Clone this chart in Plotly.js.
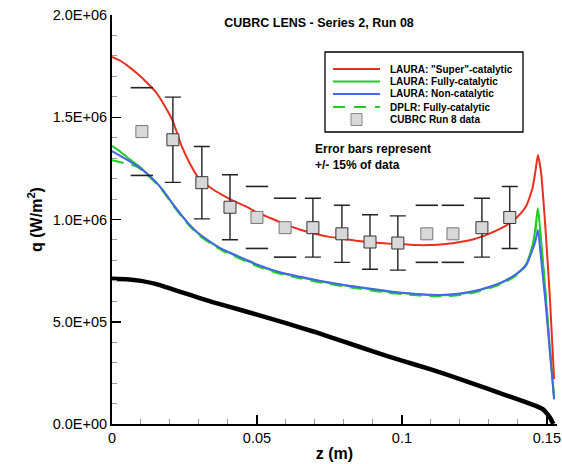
<!DOCTYPE html>
<html>
<head>
<meta charset="utf-8">
<script src="https://cdn.plot.ly/plotly-3.0.1.min.js"></script>
<style>html,body{margin:0;padding:0;background:#fff;}#chart{width:562px;height:464px;}</style>
</head>
<body>
<div id="chart"></div>
<script>
// ---- Simulation curves (z in m, q in W/m^2) ----
const zSim = [0,0.003,0.006,0.009,0.012,0.015,0.018,0.021,0.024,0.027,0.030,0.034,0.038,0.042,0.046,0.050,0.055,0.060,0.065,0.070,0.075,0.080,0.085,0.090,0.095,0.100,0.105,0.110,0.115,0.120,0.125,0.130,0.134,0.138,0.141,0.143,0.145,0.146,0.1469,0.148,0.1495,0.151,0.1525];
const qSuper = [1.795e6,1.775e6,1.745e6,1.71e6,1.67e6,1.625e6,1.56e6,1.48e6,1.36e6,1.27e6,1.20e6,1.155e6,1.12e6,1.09e6,1.065e6,1.035e6,1.005e6,9.75e5,9.5e5,9.3e5,9.15e5,9.05e5,8.95e5,8.88e5,8.83e5,8.8e5,8.75e5,8.75e5,8.8e5,8.9e5,9.05e5,9.3e5,9.55e5,9.9e5,1.03e6,1.07e6,1.15e6,1.23e6,1.315e6,1.23e6,9.6e5,6.3e5,2.2e5];
const qFully = [1.36e6,1.33e6,1.295e6,1.265e6,1.225e6,1.185e6,1.135e6,1.075e6,1.02e6,9.7e5,9.28e5,8.88e5,8.53e5,8.27e5,8.02e5,7.77e5,7.52e5,7.32e5,7.17e5,7.02e5,6.9e5,6.78e5,6.67e5,6.57e5,6.47e5,6.4e5,6.34e5,6.3e5,6.3e5,6.36e5,6.48e5,6.68e5,6.88e5,7.18e5,7.5e5,7.85e5,8.7e5,9.5e5,1.056e6,9.0e5,6.5e5,3.8e5,1.3e5];
const qNon = [1.335e6,1.31e6,1.285e6,1.26e6,1.225e6,1.185e6,1.135e6,1.075e6,1.02e6,9.7e5,9.3e5,8.9e5,8.55e5,8.3e5,8.05e5,7.8e5,7.55e5,7.35e5,7.2e5,7.05e5,6.92e5,6.8e5,6.7e5,6.6e5,6.5e5,6.42e5,6.36e5,6.32e5,6.32e5,6.38e5,6.5e5,6.7e5,6.9e5,7.2e5,7.5e5,7.8e5,8.5e5,8.9e5,9.5e5,8.1e5,6.0e5,3.6e5,1.2e5];
const qDplr = [1.29e6,1.28e6,1.27e6,1.255e6,1.22e6,1.18e6,1.13e6,1.07e6,1.015e6,9.65e5,9.23e5,8.83e5,8.48e5,8.22e5,7.97e5,7.72e5,7.47e5,7.27e5,7.12e5,6.97e5,6.85e5,6.73e5,6.62e5,6.52e5,6.42e5,6.35e5,6.29e5,6.25e5,6.25e5,6.31e5,6.43e5,6.63e5,6.83e5,7.13e5,7.45e5,7.8e5,8.6e5,9.4e5,1.045e6,8.9e5,6.45e5,3.75e5,1.3e5];
// black (unlabelled) curve
const zBody = [0,0.005,0.010,0.015,0.020,0.025,0.030,0.035,0.040,0.050,0.060,0.070,0.080,0.090,0.100,0.110,0.120,0.130,0.140,0.145,0.147,0.1485,0.150,0.151,0.1515,0.152,0.1523];
const qBody = [7.1e5,7.08e5,7.0e5,6.85e5,6.63e5,6.4e5,6.17e5,5.95e5,5.75e5,5.35e5,4.93e5,4.5e5,4.03e5,3.55e5,3.1e5,2.67e5,2.2e5,1.7e5,1.2e5,9.5e4,8.4e4,7.4e4,5.2e4,3.3e4,2.0e4,6e3,0];
// ---- Experimental data ----
const zData = [0.0103,0.021,0.031,0.0407,0.050,0.0597,0.0693,0.0793,0.089,0.0986,0.1086,0.1176,0.1276,0.1372];
const qData = [1.43e6,1.39e6,1.18e6,1.06e6,1.01e6,9.6e5,9.6e5,9.3e5,8.9e5,8.85e5,9.3e5,9.3e5,9.6e5,1.01e6];
const hasBar = [0,1,1,1,0,0,1,1,1,1,0,0,1,1];
const errPct = 15;
// ---- Text ----
const seriesNames = ['LAURA: "Super"-catalytic','LAURA: Fully-catalytic','LAURA: Non-catalytic','DPLR: Fully-catalytic','CUBRC Run 8 data'];
const seriesColors = ['#e8301e','#22cc22','#4466ee','#22cc22','#d8d8d8'];
const yTickVals = [0,5e5,1e6,1.5e6,2e6];
const yTickText = ['0.0E+00','5.0E+05','1.0E+06','1.5E+06','2.0E+06'];
const xTickVals = [0,0.05,0.1,0.15];
const xTickText = ['0','0.05','0.1','0.15'];
const titleText = 'CUBRC LENS - Series 2, Run 08';
const noteText = 'Error bars represent<br>+/- 15% of data';

const FONT = 'Liberation Sans, Arial, Helvetica, sans-serif';
const W = 562, H = 464, ML = 112, MR = 5, MT = 15, MB = 40;
const PW = W - ML - MR, PH = H - MT - MB;
const px = x => (x - ML) / PW;
const py = y => (H - MB - y) / PH;

const barZ = [], barQ = [], capZ = [], capQ = [], noBarZ = [], noBarQ = [];
zData.forEach((z, i) => {
  if (hasBar[i]) { barZ.push(z); barQ.push(qData[i]); }
  else {
    noBarZ.push(z); noBarQ.push(qData[i]);
    capZ.push(z, z); capQ.push(qData[i] * (1 + errPct/100), qData[i] * (1 - errPct/100));
  }
});

const traces = [
  {x: zBody, y: qBody, mode: 'lines', line: {color: '#000', width: 4.5, shape: 'spline', smoothing: 0.3}, showlegend: false, hoverinfo: 'skip'},
  {x: zSim, y: qFully, mode: 'lines', name: seriesNames[1], line: {color: seriesColors[1], width: 2, shape: 'spline', smoothing: 0.5}},
  {x: zSim, y: qDplr, mode: 'lines', name: seriesNames[3], line: {color: seriesColors[3], width: 2, dash: '12px,8px', shape: 'spline', smoothing: 0.5}},
  {x: zSim, y: qNon, mode: 'lines', name: seriesNames[2], line: {color: seriesColors[2], width: 2, shape: 'spline', smoothing: 0.5}},
  {x: zSim, y: qSuper, mode: 'lines', name: seriesNames[0], line: {color: seriesColors[0], width: 2, shape: 'spline', smoothing: 0.5}},
  {x: capZ, y: capQ, mode: 'markers', marker: {symbol: 'line-ew', size: 16, line: {color: '#222', width: 1.6}}, showlegend: false, hoverinfo: 'skip'},
  {x: noBarZ, y: noBarQ, mode: 'markers', marker: {symbol: 'square', size: 12, color: '#d8d8d8', line: {color: '#777', width: 1}}, showlegend: false},
  {x: barZ, y: barQ, mode: 'markers', name: seriesNames[4],
   error_y: {type: 'percent', value: errPct, color: '#222', thickness: 1.4, width: 8},
   marker: {symbol: 'square', size: 12, color: '#d8d8d8', line: {color: '#333', width: 1}}}
];

// manual legend
const legRows = [69, 81.5, 94, 107, 119.5];
const legOrder = [0, 1, 2, 3, 4];
const shapes = [
  {type: 'rect', xref: 'paper', yref: 'paper', x0: px(325), x1: px(523), y0: py(132), y1: py(52), line: {color: '#000', width: 1.3}, fillcolor: '#fff', layer: 'above'}
];
const annotations = [
  {text: noteText, xref: 'paper', yref: 'paper', x: px(313), y: py(156.5), xanchor: 'left', yanchor: 'middle', align: 'left', showarrow: false, font: {family: FONT, size: 12, color: '#000', weight: 'bold'}}
];
legOrder.forEach((k, r) => {
  const yy = py(legRows[r]);
  if (k === 4) {
    shapes.push({type: 'rect', xref: 'paper', yref: 'paper', x0: px(351), x1: px(362), y0: py(legRows[r] + 6), y1: py(legRows[r] - 6), fillcolor: '#d8d8d8', line: {color: '#888', width: 1}, layer: 'above'});
  } else {
    shapes.push({type: 'line', xref: 'paper', yref: 'paper', x0: px(333), x1: px(380), y0: yy, y1: yy, line: {color: seriesColors[k], width: 2, dash: k === 3 ? '12px,9px' : 'solid'}, layer: 'above'});
  }
  annotations.push({text: seriesNames[k], xref: 'paper', yref: 'paper', x: px(388), y: yy, xanchor: 'left', yanchor: 'middle', showarrow: false, font: {family: FONT, size: 10, color: '#000', weight: 'bold'}});
});

const layout = {
  width: W, height: H,
  margin: {l: ML, r: MR, t: MT, b: MB, pad: 0},
  paper_bgcolor: '#fff', plot_bgcolor: '#fff',
  showlegend: false,
  title: {text: titleText, xref: 'paper', yref: 'paper', x: px(319), y: py(23), xanchor: 'center', yanchor: 'middle', font: {family: FONT, size: 12.5, color: '#000', weight: 'bold'}},
  xaxis: {
    range: [0, 0.1535], showgrid: false, zeroline: false,
    showline: true, linecolor: '#000', linewidth: 2,
    tickmode: 'array', tickvals: xTickVals, ticktext: xTickText,
    ticks: 'inside', ticklen: 9, tickwidth: 1.5, tickcolor: '#000',
    minor: {tickmode: 'linear', tick0: 0, dtick: 0.01, ticks: 'inside', ticklen: 5, tickcolor: '#999', tickwidth: 1},
    tickfont: {family: FONT, size: 14.5, color: '#000'},
    title: {text: 'z (m)', font: {family: FONT, size: 16, color: '#000', weight: 'bold'}, standoff: 2}
  },
  yaxis: {
    range: [0, 2e6], showgrid: false, zeroline: false,
    showline: true, linecolor: '#000', linewidth: 2,
    tickmode: 'array', tickvals: yTickVals, ticktext: yTickText,
    ticks: 'inside', ticklen: 9, tickwidth: 1.5, tickcolor: '#000',
    minor: {tickmode: 'linear', tick0: 0, dtick: 1e5, ticks: 'inside', ticklen: 5, tickcolor: '#999', tickwidth: 1},
    tickfont: {family: FONT, size: 14.5, color: '#000'},
    title: {text: 'q (W/m<sup>2</sup>)', font: {family: FONT, size: 16, color: '#000', weight: 'bold'}, standoff: 6}
  },
  shapes: shapes,
  annotations: annotations
};

Plotly.newPlot('chart', traces, layout, {displayModeBar: false, staticPlot: true});
</script>
</body>
</html>
